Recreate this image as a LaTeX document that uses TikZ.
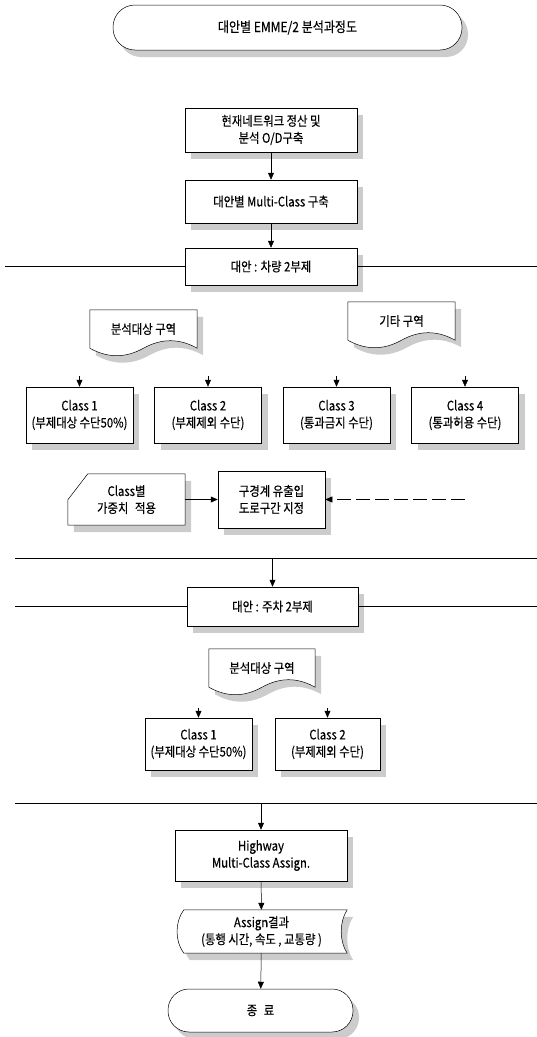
\documentclass[tikz,border=0pt]{standalone}
\usepackage{fontspec}
\setmainfont{Noto Sans CJK KR}[FakeStretch=0.86,FakeBold=0.3]
\usetikzlibrary{arrows.meta,shadows,calc}
\pgfdeclarelayer{background}
\pgfsetlayers{background,main}
\newcommand{\tapeshp}[1]{%
  \begin{pgfonlayer}{background}
  \fill[shd, transform canvas={xshift=6pt,yshift=-7pt}] (#1.south west) -- (#1.north west) -- (#1.north east) -- (#1.south east)
    .. controls ($(#1.south east)+(-18,-10)$) and ($(#1.south)+(18,-10)$) .. (#1.south)
    .. controls ($(#1.south)+(-18,10)$) and ($(#1.south west)+(18,10)$) .. (#1.south west) -- cycle;
  \draw[ln, fill=white] (#1.south west) -- (#1.north west) -- (#1.north east) -- (#1.south east)
    .. controls ($(#1.south east)+(-18,-10)$) and ($(#1.south)+(18,-10)$) .. (#1.south)
    .. controls ($(#1.south)+(-18,10)$) and ($(#1.south west)+(18,10)$) .. (#1.south west) -- cycle;
  \end{pgfonlayer}}
\begin{document}
\begin{tikzpicture}[x=1pt,y=-1pt,
  txt/.style={font=\fontsize{13.2}{17}\selectfont, align=center, inner sep=0pt},
  ln/.style={draw=black, line width=0.5pt},
  shd/.style={fill=black!20},
  boxnode/.style={txt, ln, fill=white, drop shadow={shadow xshift=6pt, shadow yshift=-7pt, fill=black!20, opacity=1}},
  arr/.style={-{Triangle[length=7pt,width=6pt]}, line width=0.5pt}
]
\useasboundingbox (0,0) rectangle (537,1037);

% title
\node[boxnode, minimum width=349pt, minimum height=45pt, rounded corners=22pt,
      font=\fontsize{14}{16}\selectfont] (title) at (287.5,27.5) {대안별 EMME/2 분석과정도};

% main column
\node[boxnode, minimum width=172pt, minimum height=44pt] (b1) at (271,130) {현재네트워크 정산 및\\분석 O/D구축};
\node[boxnode, minimum width=172pt, minimum height=43pt] (b2) at (271,201.5) {대안별 Multi-Class 구축};
\node[boxnode, minimum width=172pt, minimum height=37pt] (alt1) at (271,266.5) {대안 : 차량 2부제};
\draw[arr] (b1) -- (b2);
\draw[arr] (b2) -- (alt1);
\coordinate (l1a) at (5,266.5);
\coordinate (l1b) at (537,266.5);
\draw[ln] (l1a) -- (alt1.west);
\draw[ln] (alt1.east) -- (l1b);

% zones
\node[txt, minimum width=107pt, minimum height=38pt] (zA) at (143.5,329) {분석대상 구역};
\tapeshp{zA}
\node[txt, minimum width=107pt, minimum height=38pt] (zB) at (401.5,321) {기타 구역};
\tapeshp{zB}

% classes
\node[boxnode, minimum width=107pt, minimum height=56pt] (c1) at (79.5,415) {Class 1\\(부제대상 수단50\%)};
\node[boxnode, minimum width=107pt, minimum height=56pt] (c2) at (208,415) {Class 2\\(부제제외 수단)};
\node[boxnode, minimum width=107pt, minimum height=56pt] (c3) at (336.5,415) {Class 3\\(통과금지 수단)};
\node[boxnode, minimum width=107pt, minimum height=56pt] (c4) at (465,415) {Class 4\\(통과허용 수단)};
\coordinate (c1a) at (79.5,376);
\coordinate (c2a) at (208,376);
\coordinate (c3a) at (336.5,376);
\coordinate (c4a) at (465,376);
\draw[arr] (c1a) -- (c1);
\draw[arr] (c2a) -- (c2);
\draw[arr] (c3a) -- (c3);
\draw[arr] (c4a) -- (c4);

% card + road section
\node[txt, minimum width=117pt, minimum height=51pt] (card) at (126.5,499.5) {Class별\\가중치\enspace 적용};
\begin{pgfonlayer}{background}
\fill[shd, transform canvas={xshift=6pt,yshift=-7pt}] (card.south west) -- ($(card.north west)+(0,26)$) -- ($(card.north west)+(20,0)$) -- (card.north east) -- (card.south east) -- cycle;
\draw[ln, fill=white] (card.south west) -- ($(card.north west)+(0,26)$) -- ($(card.north west)+(20,0)$) -- (card.north east) -- (card.south east) -- cycle;
\end{pgfonlayer}
\node[boxnode, minimum width=107pt, minimum height=57pt] (road) at (271.5,499.5) {구경계 유출입\\도로구간 지정};
\draw[arr] (card.east) -- (road.west);
\coordinate (rin) at (465,499.5);
\draw[arr, dash pattern=on 14pt off 5pt] (rin) -- (road.east);

% separator 1
\coordinate (h1a) at (15,558);
\coordinate (h1b) at (537,558);
\coordinate (h1m) at (272.5,558);
\draw[ln] (h1a) -- (h1b);

\node[boxnode, minimum width=171pt, minimum height=39pt] (alt2) at (272.5,606.5) {대안 : 주차 2부제};
\draw[arr] (h1m) -- (alt2);
\coordinate (l2a) at (15,606.5);
\coordinate (l2b) at (537,606.5);
\draw[ln] (l2a) -- (alt2.west);
\draw[ln] (alt2.east) -- (l2b);

\node[txt, minimum width=106pt, minimum height=38pt] (zC) at (262,668) {분석대상 구역};
\tapeshp{zC}

\node[boxnode, minimum width=107pt, minimum height=52pt] (d1) at (198.5,744) {Class 1\\(부제대상 수단50\%)};
\node[boxnode, minimum width=105pt, minimum height=52pt] (d2) at (327.5,744) {Class 2\\(부제제외 수단)};
\coordinate (d1a) at (198.5,708);
\coordinate (d2a) at (327.5,708);
\draw[arr] (d1a) -- (d1);
\draw[arr] (d2a) -- (d2);

% separator 2
\coordinate (h2a) at (15,803);
\coordinate (h2b) at (537,803);
\coordinate (h2m) at (261,803);
\draw[ln] (h2a) -- (h2b);

\node[boxnode, minimum width=172pt, minimum height=51pt] (hw) at (261,855.5) {Highway\\Multi-Class Assign.};
\draw[arr] (h2m) -- (hw);

\node[txt, minimum width=171pt, minimum height=43pt] (asg) at (261.5,931.5) {Assign결과\\(통행 시간, 속도 , 교통량 )};
\begin{pgfonlayer}{background}
\fill[shd, transform canvas={xshift=6pt,yshift=-7pt}] ($(asg.north west)+(8,0)$) -- (asg.north east)
  .. controls ($(asg.north east)+(-8,12)$) and ($(asg.south east)+(-8,-12)$) .. (asg.south east)
  -- ($(asg.south west)+(8,0)$)
  .. controls ($(asg.south west)+(-1,-12)$) and ($(asg.north west)+(-1,12)$) .. ($(asg.north west)+(8,0)$) -- cycle;
\draw[ln, fill=white] ($(asg.north west)+(8,0)$) -- (asg.north east)
  .. controls ($(asg.north east)+(-8,12)$) and ($(asg.south east)+(-8,-12)$) .. (asg.south east)
  -- ($(asg.south west)+(8,0)$)
  .. controls ($(asg.south west)+(-1,-12)$) and ($(asg.north west)+(-1,12)$) .. ($(asg.north west)+(8,0)$) -- cycle;
\end{pgfonlayer}
\draw[arr] (hw) -- (asg);

\node[boxnode, minimum width=185pt, minimum height=43pt, rounded corners=21pt] (fin) at (260.5,1010.5) {종\enspace 료};
\draw[arr] (asg) -- (fin);
\end{tikzpicture}
\end{document}
